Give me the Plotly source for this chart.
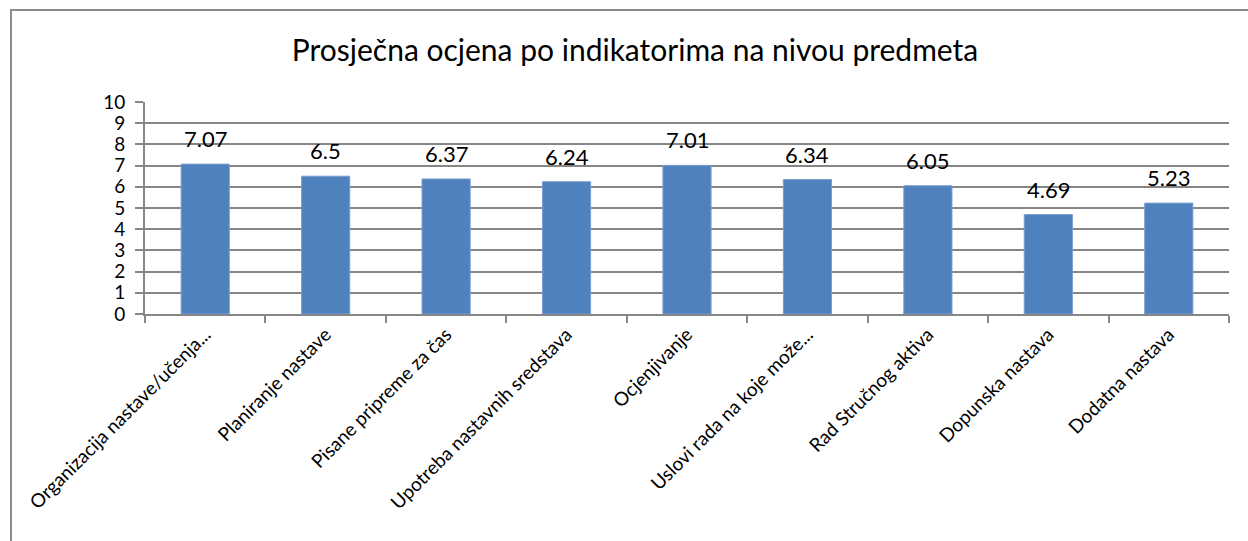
import plotly.graph_objects as go

# Indicator names and their average scores
categories = [
    "Organizacija nastave/učenja...",
    "Planiranje nastave",
    "Pisane pripreme za čas",
    "Upotreba nastavnih sredstava",
    "Ocjenjivanje",
    "Uslovi rada na koje može...",
    "Rad Stručnog aktiva",
    "Dopunska nastava",
    "Dodatna nastava",
]
scores = [7.07, 6.5, 6.37, 6.24, 7.01, 6.34, 6.05, 4.69, 5.23]
y_ticks = list(range(0, 11))

W, H = 1248, 541
L, R, T, B = 145, 19, 102, 227
pw, ph = W - L - R, H - T - B

FONT = "Lato, Calibri, Carlito, sans-serif"
GRID = "#868686"

fig = go.Figure()
fig.add_trace(go.Bar(
    x=categories,
    y=scores,
    marker=dict(color="#4F81BD", line=dict(color="#7A9FD0", width=1)),
    width=0.4,
    hoverinfo="x+y",
))

# value labels above each bar
for c, v in zip(categories, scores):
    fig.add_annotation(
        x=c, y=v, text=f"{v:g}", showarrow=False,
        yanchor="bottom", yshift=10,
        font=dict(family=FONT, size=22, color="#000000"),
    )

def px_to_paper_x(px):
    return (px - L) / pw

def px_to_paper_y(py):
    return (H - B - py) / ph

# chart-area frame (left and top edges)
fig.add_shape(type="line", xref="paper", yref="paper",
              x0=px_to_paper_x(11), x1=px_to_paper_x(11),
              y0=px_to_paper_y(10), y1=px_to_paper_y(560),
              line=dict(color="#8C8C8C", width=2))
fig.add_shape(type="line", xref="paper", yref="paper",
              x0=px_to_paper_x(10), x1=px_to_paper_x(1260),
              y0=px_to_paper_y(10), y1=px_to_paper_y(10),
              line=dict(color="#8C8C8C", width=2))

fig.update_layout(
    width=W, height=H,
    margin=dict(l=L, r=R, t=T, b=B, autoexpand=False),
    paper_bgcolor="white",
    plot_bgcolor="white",
    showlegend=False,
    bargap=0.6,
    title=dict(
        text="Prosječna ocjena po indikatorima na nivou predmeta",
        x=635 / W, xref="container", xanchor="center",
        y=1 - 50 / H, yref="container", yanchor="middle",
        font=dict(family=FONT, size=30, color="#000000"),
    ),
    xaxis=dict(
        type="category",
        tickangle=-45,
        tickfont=dict(family=FONT, size=19, color="#000000"),
        showline=True, linecolor=GRID, linewidth=2,
        ticks="outside", ticklen=7, tickcolor=GRID, tickwidth=2,
        tickson="boundaries",
        showgrid=False,
        range=[-0.5, len(categories) - 0.5],
    ),
    yaxis=dict(
        range=[0, 10],
        tickvals=y_ticks,
        ticktext=[str(t) for t in y_ticks],
        tickfont=dict(family=FONT, size=19, color="#000000"),
        showline=True, linecolor=GRID, linewidth=2,
        ticks="outside", ticklen=8, tickcolor=GRID, tickwidth=2,
        showgrid=True, gridcolor=GRID, gridwidth=2,
        zeroline=False,
        ticklabelstandoff=6,
    ),
)

fig.write_html("out.html")
